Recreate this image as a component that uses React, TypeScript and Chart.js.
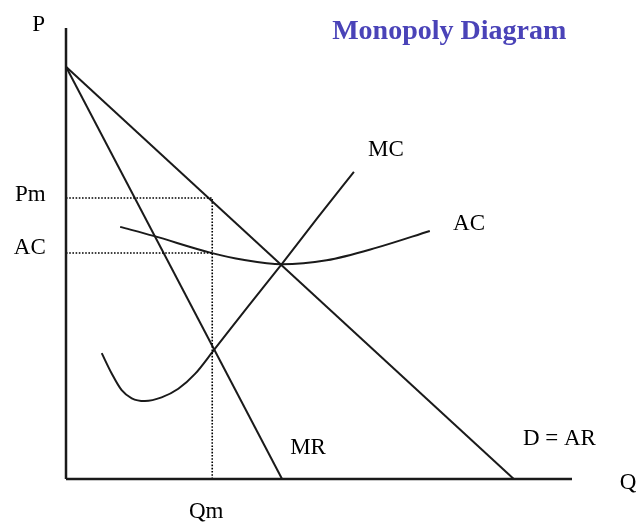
import React, { useEffect, useRef } from "react";
import { Chart, registerables } from "chart.js";

Chart.register(...registerables);

// Axis extents (data units)
const Q_MAX = 100;
const P_MAX = 100;

// Key values
const Qm = 28.9;
const Pm = 62.3;
const ACm = 50.1;

// Curves (Q, P)
const demandQ = [0, 88.5];
const demandP = [91.4, 0];

const mrQ = [0, 42.7];
const mrP = [91.4, 0];

const mcQ = [7.06, 9.03, 11.0, 13.0, 15.6, 18.9, 22.2, 25.5, 29.1, 35.8, 42.6, 49.7, 56.9];
const mcP = [27.9, 23.4, 19.7, 17.9, 17.3, 18.1, 20.0, 23.3, 28.4, 38.0, 47.6, 57.9, 68.1];

const acQ = [10.7, 17.3, 28.5, 35.0, 42.6, 51.5, 61.4, 71.9];
const acP = [55.9, 53.9, 50.2, 48.6, 47.6, 48.5, 51.3, 55.0];

// Text labels
const labelText = ["P", "Pm", "AC", "Qm", "Q", "MC", "AC", "MR", "D = AR"];
const labelQ = [-5.4, -4.0, -4.0, 27.7, 111.1, 59.7, 76.5, 44.3, 90.3];
const labelP = [100.7, 63.0, 51.2, -7.3, -0.9, 72.9, 56.5, 6.9, 8.9];
const labelAlign = ["center", "right", "right", "center", "center", "left", "left", "left", "left"];

const titleText = "Monopoly Diagram";
const titleQ = 52.6;
const titleP = 99.1;

const pts = (xs: number[], ys: number[]) => xs.map((x, i) => ({ x, y: ys[i] }));

export default function App() {
  const ref = useRef<HTMLCanvasElement | null>(null);

  useEffect(() => {
    document.body.style.margin = "0";
    const canvas = ref.current;
    if (!canvas) return;

    const labelsPlugin = {
      id: "diagramLabels",
      afterDraw(chart: any) {
        const ctx = chart.ctx;
        const xs = chart.scales.x;
        const ys = chart.scales.y;
        ctx.save();
        ctx.fillStyle = "#000";
        ctx.font = "23px 'Liberation Serif', 'Times New Roman', serif";
        ctx.textBaseline = "middle";
        labelText.forEach((t, i) => {
          ctx.textAlign = labelAlign[i] as CanvasTextAlign;
          ctx.fillText(t, xs.getPixelForValue(labelQ[i]), ys.getPixelForValue(labelP[i]));
        });
        ctx.font = "bold 28px 'Liberation Serif', 'Times New Roman', serif";
        ctx.fillStyle = "#4a43b8";
        ctx.textAlign = "left";
        ctx.fillText(titleText, xs.getPixelForValue(titleQ), ys.getPixelForValue(titleP));
        ctx.restore();
      },
    };

    const solid = (data: any[], width = 2, curved = false) => ({
      data,
      borderColor: "#1a1a1a",
      borderWidth: width,
      pointRadius: 0,
      fill: false,
      clip: false as any,
      showLine: true,
      cubicInterpolationMode: curved ? "monotone" : "default",
      tension: curved ? 0.4 : 0,
    });

    const dotted = (data: any[]) => ({
      data,
      borderColor: "#000",
      borderWidth: 1.6,
      borderDash: [1.6, 1.6],
      pointRadius: 0,
      fill: false,
      clip: false as any,
      showLine: true,
      tension: 0,
    });

    const chart = new Chart(canvas, {
      type: "scatter",
      data: {
        datasets: [
          solid([{ x: 0, y: 0 }, { x: 0, y: P_MAX }], 2.5),
          solid([{ x: 0, y: 0 }, { x: Q_MAX, y: 0 }], 2.5),
          dotted([{ x: 0, y: Pm }, { x: Qm, y: Pm }]),
          dotted([{ x: 0, y: ACm }, { x: Qm, y: ACm }]),
          dotted([{ x: Qm, y: 0 }, { x: Qm, y: Pm }]),
          solid(pts(demandQ, demandP), 2),
          solid(pts(mrQ, mrP), 2),
          solid(pts(mcQ, mcP), 2, true),
          solid(pts(acQ, acP), 2, true),
        ] as any,
      },
      options: {
        animation: false,
        responsive: false,
        layout: { padding: { left: 66, right: 66, top: 28, bottom: 45 } },
        plugins: { legend: { display: false }, tooltip: { enabled: false }, title: { display: false } },
        scales: {
          x: { type: "linear", min: 0, max: Q_MAX, display: false },
          y: { type: "linear", min: 0, max: P_MAX, display: false },
        },
      },
      plugins: [labelsPlugin],
    });

    return () => chart.destroy();
  }, []);

  return (
    <div style={{ width: 638, height: 524, background: "#fff" }}>
      <canvas ref={ref} width={638} height={524} />
    </div>
  );
}
